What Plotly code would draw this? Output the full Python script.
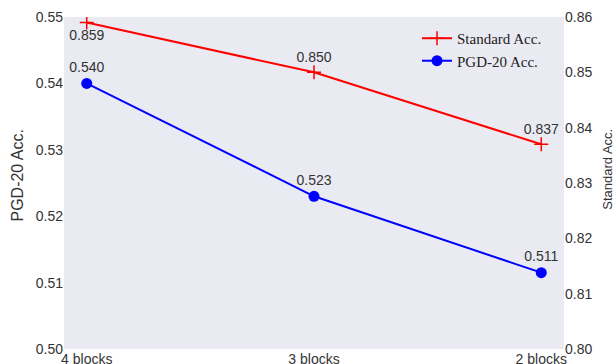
import plotly.graph_objects as go

categories = ["4 blocks", "3 blocks", "2 blocks"]
standard_acc = [0.859, 0.850, 0.837]
standard_labels = ["0.859", "0.850", "0.837"]
pgd_acc = [0.540, 0.523, 0.5115]
pgd_labels = ["0.540", "0.523", "0.511"]
left_ticks = [0.50, 0.51, 0.52, 0.53, 0.54, 0.55]
right_ticks = [0.80, 0.81, 0.82, 0.83, 0.84, 0.85, 0.86]

xs = list(range(len(categories)))
tick_font = dict(family="Liberation Sans, Arial, sans-serif", size=14, color="#333333")
left_title_font = dict(family="Liberation Sans, Arial, sans-serif", size=16, color="#333333")
right_title_font = dict(family="Liberation Sans, Arial, sans-serif", size=13, color="#333333")

fig = go.Figure()
fig.add_trace(go.Scatter(
    x=xs, y=standard_acc, name="Standard Acc.", yaxis="y2",
    mode="lines+markers+text", text=standard_labels,
    textposition=["bottom center", "top center", "top center"],
    textfont=tick_font,
    line=dict(color="red", width=2),
    marker=dict(symbol="cross-thin", size=10, line=dict(color="red", width=1.5), color="red"),
))
fig.add_trace(go.Scatter(
    x=xs, y=pgd_acc, name="PGD-20 Acc.", yaxis="y",
    mode="lines+markers+text", text=pgd_labels,
    textposition="top center", textfont=tick_font,
    line=dict(color="blue", width=2),
    marker=dict(symbol="circle", size=11, color="blue"),
))

fig.update_layout(
    width=616, height=364,
    margin=dict(l=64, r=52, t=17, b=15, autoexpand=False),
    paper_bgcolor="white", plot_bgcolor="#EAEAF2",
    font=tick_font,
    xaxis=dict(range=[-0.1, 2.1], tickvals=xs, ticktext=categories, automargin=False,
               showgrid=False, zeroline=False, ticks="", tickfont=tick_font),
    yaxis=dict(range=[0.50, 0.55], tickvals=left_ticks, tickformat=".2f", automargin=False,
               showgrid=False, zeroline=False, ticks="", tickfont=tick_font),
    yaxis2=dict(range=[0.80, 0.86], tickvals=right_ticks, tickformat=".2f", automargin=False,
                overlaying="y", side="right",
                showgrid=False, zeroline=False, ticks="", tickfont=tick_font),
    legend=dict(x=0.706, y=0.985, xanchor="left", yanchor="top",
                bgcolor="rgba(0,0,0,0)",
                font=dict(family="Liberation Serif, Times New Roman, serif", size=15, color="#222222")),
    showlegend=True,
    annotations=[
        dict(text="PGD-20 Acc.", xref="paper", yref="paper", x=-0.093, y=0.521,
             textangle=-90, showarrow=False, font=left_title_font, xanchor="center", yanchor="middle"),
        dict(text="Standard Acc.", xref="paper", yref="paper", x=1.088, y=0.54,
             textangle=-90, showarrow=False, font=right_title_font, xanchor="center", yanchor="middle"),
    ],
)

fig.write_html("out.html", config={"displayModeBar": False},
               post_script="document.body.style.margin='0';document.body.style.overflow='hidden';")
